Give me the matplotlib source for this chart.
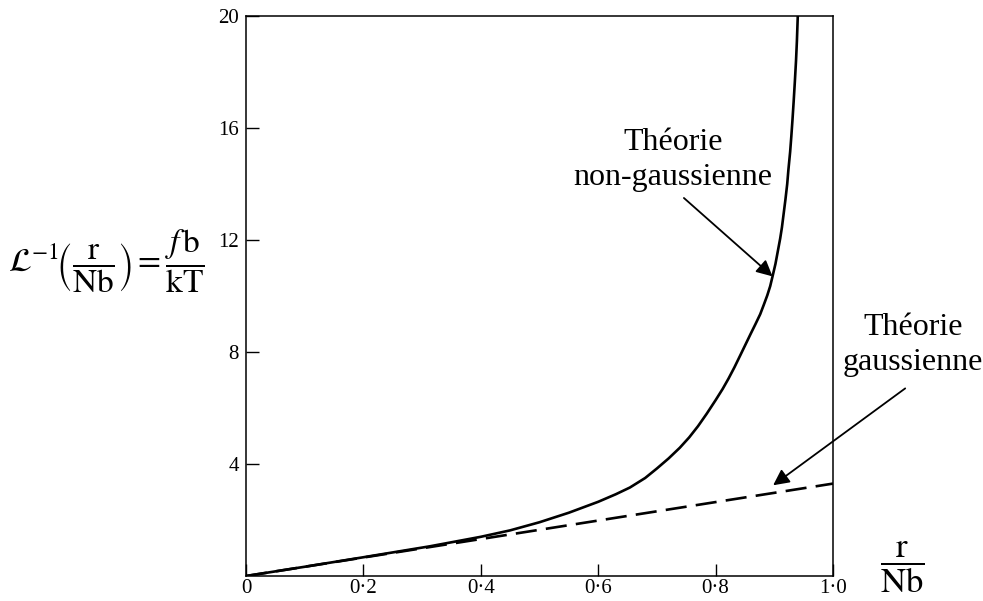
import matplotlib
matplotlib.use('Agg')
import matplotlib.pyplot as plt

# Valeurs
r_non_gauss = [0.0, 0.1, 0.2, 0.313, 0.4, 0.45, 0.5, 0.55, 0.6, 0.63, 0.654,
               0.68, 0.7, 0.72, 0.739, 0.755, 0.77, 0.785, 0.8, 0.812, 0.822,
               0.832, 0.842, 0.851, 0.86, 0.868, 0.876, 0.882, 0.888, 0.893,
               0.897, 0.902, 0.906, 0.91, 0.913, 0.916, 0.919, 0.922, 0.924,
               0.927, 0.929, 0.931, 0.933, 0.935, 0.937, 0.9385, 0.94]
f_non_gauss = [0.0, 0.33, 0.67, 1.06, 1.4, 1.63, 1.92, 2.26, 2.65, 2.92, 3.16,
               3.5, 3.84, 4.2, 4.58, 4.95, 5.35, 5.8, 6.28, 6.68, 7.05,
               7.45, 7.88, 8.27, 8.66, 9.0, 9.35, 9.68, 10.02, 10.35,
               10.7, 11.15, 11.6, 12.05, 12.45, 12.95, 13.45, 14.0, 14.5,
               15.15, 15.7, 16.3, 16.95, 17.65, 18.4, 19.1, 20.0]

r_gauss = [0.0, 1.0]
f_gauss = [0.0, 3.3]

x_ticks = [0.0, 0.2, 0.4, 0.6, 0.8, 1.0]
x_labels = ['0', '0·2', '0·4', '0·6', '0·8', '1·0']
y_ticks = [4, 8, 12, 16, 20]
y_labels = ['4', '8', '12', '16', '20']

plt.rcParams['font.family'] = ['Liberation Serif', 'DejaVu Serif']
plt.rcParams['mathtext.fontset'] = 'stix'

fig = plt.figure(figsize=(9.83, 6.01), dpi=100)
ax = fig.add_axes([0.2503, 0.0416, 0.5971, 0.9318])

# Courbes
ax.plot(r_non_gauss, f_non_gauss, color='black', lw=1.9,
        solid_joinstyle='round')
ax.plot(r_gauss, f_gauss, color='black', lw=1.9, dashes=(8, 3.5))

ax.set_xlim(0, 1.0)
ax.set_ylim(0, 20)

ax.set_xticks(x_ticks)
ax.set_xticklabels(x_labels)
ax.set_yticks(y_ticks)
ax.set_yticklabels(y_labels)
ax.tick_params(direction='in', length=9, width=1.0, labelsize=15, colors='black')
ax.tick_params(axis='x', pad=2)
ax.tick_params(axis='y', pad=5)
for s in ax.spines.values():
    s.set_linewidth(1.1)

# Etiquettes des axes
fig.text(0.008, 0.566,
         r'$\mathcal{L}^{-1}\!\left(\dfrac{\mathrm{r}}{\mathrm{Nb}}\right)=\dfrac{f\,\mathrm{b}}{\mathrm{kT}}$',
         fontsize=24, ha='left', va='center')
fig.text(0.918, 0.056, r'$\dfrac{\mathrm{r}}{\mathrm{Nb}}$',
         fontsize=25, ha='center', va='center')

# Annotations
ax.text(0.727, 14.85, 'Théorie\nnon-gaussienne', fontsize=23, ha='center',
        va='center', linespacing=1.25)
ax.annotate('', xy=(0.897, 10.7), xytext=(0.746, 13.5),
            arrowprops=dict(arrowstyle='-|>', color='black', lw=1.3,
                            mutation_scale=24, shrinkA=0, shrinkB=0))

ax.text(1.136, 8.25, 'Théorie\ngaussienne', fontsize=23, ha='center',
        va='center', linespacing=1.25, clip_on=False)
ax.annotate('', xy=(0.898, 3.24), xytext=(1.123, 6.7),
            arrowprops=dict(arrowstyle='-|>', color='black', lw=1.3,
                            mutation_scale=24, shrinkA=0, shrinkB=0),
            annotation_clip=False)

fig.savefig('out.png', dpi=100)
